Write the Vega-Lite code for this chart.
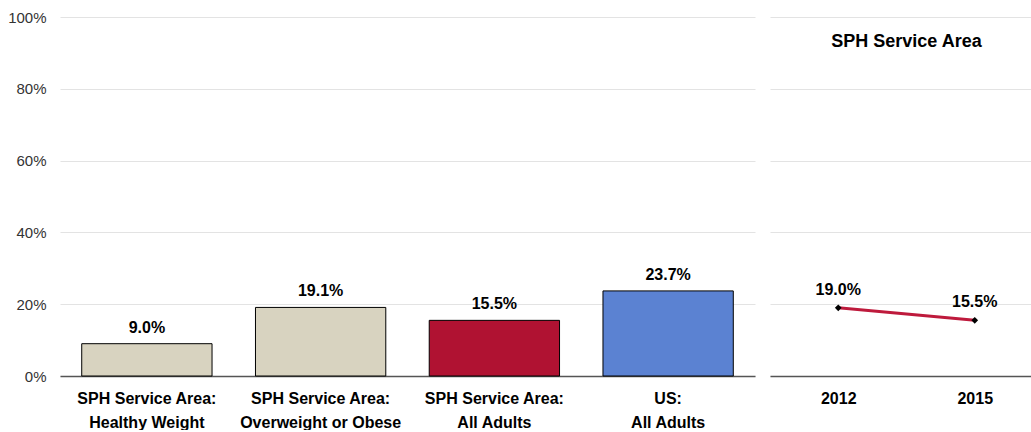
{
  "$schema": "https://vega.github.io/schema/vega-lite/v6.json",
  "padding": {"left": 7, "top": 10, "right": 0, "bottom": 0},
  "spacing": 15,
  "config": {
    "view": {"stroke": null},
    "font": "Liberation Sans, Arial",
    "axis": {
      "gridColor": "#E3E3E3",
      "gridWidth": 1,
      "ticks": false,
      "title": null
    }
  },
  "hconcat": [
    {
      "width": 695,
      "height": 359,
      "data": {
        "values": [
          {"group": "SPH Service Area:|Healthy Weight", "pct": 9.0, "label": "9.0%"},
          {"group": "SPH Service Area:|Overweight or Obese", "pct": 19.1, "label": "19.1%"},
          {"group": "SPH Service Area:|All Adults", "pct": 15.5, "label": "15.5%"},
          {"group": "US:|All Adults", "pct": 23.7, "label": "23.7%"}
        ]
      },
      "encoding": {
        "x": {
          "field": "group",
          "type": "nominal",
          "sort": null,
          "scale": {"paddingInner": 0.25, "paddingOuter": 0.125},
          "axis": {
            "labelAngle": 0,
            "labelExpr": "split(datum.label, '|')",
            "labelFontWeight": "bold",
            "labelFontSize": 16,
            "labelColor": "#000000",
            "labelLineHeight": 24,
            "labelPadding": 14,
            "labelLimit": 200,
            "domainColor": "#555555",
            "domainWidth": 1.5,
            "grid": false
          }
        },
        "y": {
          "field": "pct",
          "type": "quantitative",
          "scale": {"domain": [0, 100]},
          "axis": {
            "values": [0, 20, 40, 60, 80, 100],
            "labelExpr": "datum.value + '%'",
            "labelFontSize": 15,
            "labelColor": "#333333",
            "labelPadding": 14,
            "domain": false,
            "grid": true
          }
        }
      },
      "layer": [
        {
          "mark": {"type": "bar", "stroke": "#000000", "strokeWidth": 1},
          "encoding": {
            "color": {
              "field": "group",
              "type": "nominal",
              "sort": null,
              "scale": {"range": ["#D8D3C0", "#D8D3C0", "#B01232", "#5B82D2"]},
              "legend": null
            }
          }
        },
        {
          "mark": {"type": "text", "dy": -16, "fontWeight": "bold", "fontSize": 16, "color": "#000000"},
          "encoding": {"text": {"field": "label"}}
        }
      ]
    },
    {
      "width": 273,
      "height": 359,
      "title": {
        "text": "SPH Service Area",
        "offset": -34,
        "fontSize": 18,
        "fontWeight": "bold",
        "color": "#000000",
        "anchor": "middle"
      },
      "data": {
        "values": [
          {"year": "2012", "pct": 19.0, "label": "19.0%"},
          {"year": "2015", "pct": 15.5, "label": "15.5%"}
        ]
      },
      "encoding": {
        "x": {
          "field": "year",
          "type": "ordinal",
          "scale": {"type": "point", "padding": 0.5},
          "axis": {
            "labelAngle": 0,
            "labelFontWeight": "bold",
            "labelFontSize": 16,
            "labelColor": "#000000",
            "labelPadding": 14,
            "domainColor": "#555555",
            "domainWidth": 1.5,
            "grid": false
          }
        },
        "y": {
          "field": "pct",
          "type": "quantitative",
          "scale": {"domain": [0, 100]},
          "axis": {
            "values": [0, 20, 40, 60, 80, 100],
            "labels": false,
            "domain": false,
            "grid": true
          }
        }
      },
      "layer": [
        {
          "mark": {"type": "line", "color": "#BE1A3C", "strokeWidth": 3}
        },
        {
          "mark": {"type": "point", "shape": "diamond", "filled": true, "color": "#000000", "size": 45, "opacity": 1}
        },
        {
          "mark": {"type": "text", "dy": -18, "fontWeight": "bold", "fontSize": 16, "color": "#000000"},
          "encoding": {"text": {"field": "label"}}
        }
      ]
    }
  ]
}
